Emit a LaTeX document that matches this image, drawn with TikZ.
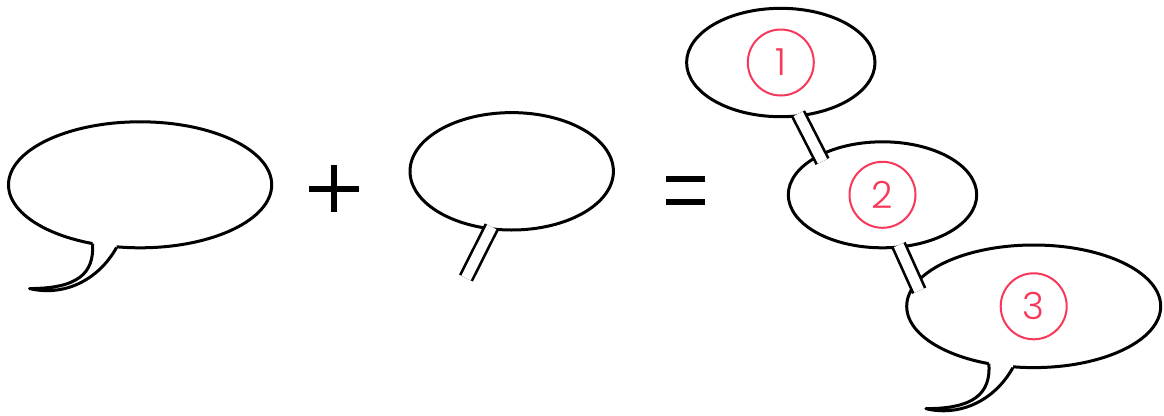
\documentclass[tikz,border=0pt]{standalone}
\usepackage{fontspec}
\newfontfamily\numfont{Poppins Light}
\usetikzlibrary{shapes.geometric}
\definecolor{numred}{RGB}{248,56,90}
\begin{document}
\begin{tikzpicture}[x=0.75pt,y=-0.75pt,
  bubble/.style={ellipse,draw=black,fill=white,line width=2.25pt,inner sep=0pt,outer sep=0pt},
  numcirc/.style={circle,draw=numred,line width=1.5pt,text=numred,minimum size=49.5pt,inner sep=0pt,
    font=\numfont\fontsize{28pt}{28pt}\selectfont},
  tailline/.style={draw=black,line width=2.25pt,line join=round},
  dbl/.style={draw=black,line width=2pt,double=white,double distance=7.7pt},
  opbar/.style={draw=black,line width=5pt}]
\useasboundingbox (0,0) rectangle (1164,415);

% bubbles
\node[bubble,minimum width=197.4pt,minimum height=94.5pt] (b1) at (140.1,184.8) {};
\node[bubble,minimum width=152.55pt,minimum height=88.05pt] (b4) at (511.7,171.3) {};
\node[bubble,minimum width=141.3pt,minimum height=81.3pt] (t1) at (780.8,62.5) {};
\node[bubble,minimum width=141.3pt,minimum height=79.5pt] (t2) at (882.5,194.8) {};
\node[bubble,minimum width=190.5pt,minimum height=91.95pt] (t3) at (1033.7,306.3) {};

% curved tails
\begin{scope}[shift={(b1.231)}]
  \fill[white] (0,-4) -- (0,0) .. controls (2,30) and (-15,45) .. (-63,45)
     .. controls (-30,53) and (5,38) .. (24,4) -- (24,-3) -- cycle;
  \draw[tailline] (0,0) .. controls (2,30) and (-15,45) .. (-63,45)
     .. controls (-30,53) and (5,38) .. (24,4);
\end{scope}
\begin{scope}[shift={(t3.232)}]
  \fill[white] (0,-4) -- (0,0) .. controls (2,30) and (-15,45) .. (-63,45)
     .. controls (-30,53) and (5,38) .. (24,4) -- (24,-3) -- cycle;
  \draw[tailline] (0,0) .. controls (2,30) and (-15,45) .. (-63,45)
     .. controls (-30,53) and (5,38) .. (24,4);
\end{scope}

% straight double tails
\coordinate (tailend) at (466,278);
\draw[dbl,shorten <=-1.5pt] (b4.250) -- (tailend);
\draw[dbl,shorten <=-1.5pt,shorten >=-5pt] (t1.289) -- (t2.148);
\draw[dbl,shorten <=-1.5pt,shorten >=-6pt] (t2.288) -- (t3.169);

% numbers
\node[numcirc] (n1) at (t1.center) {1};
\node[numcirc] (n2) at (t2.center) {2};
\node[numcirc] (n3) at (t3.center) {3};

% operators
\draw[opbar] (309.3,189) -- (359.3,189);
\draw[opbar] (334,165) -- (334,212.3);
\draw[draw=black,line width=4.75pt] (665.7,179.2) -- (705,179.2);
\draw[draw=black,line width=4.75pt] (665.7,201.7) -- (705,201.7);
\end{tikzpicture}
\end{document}
